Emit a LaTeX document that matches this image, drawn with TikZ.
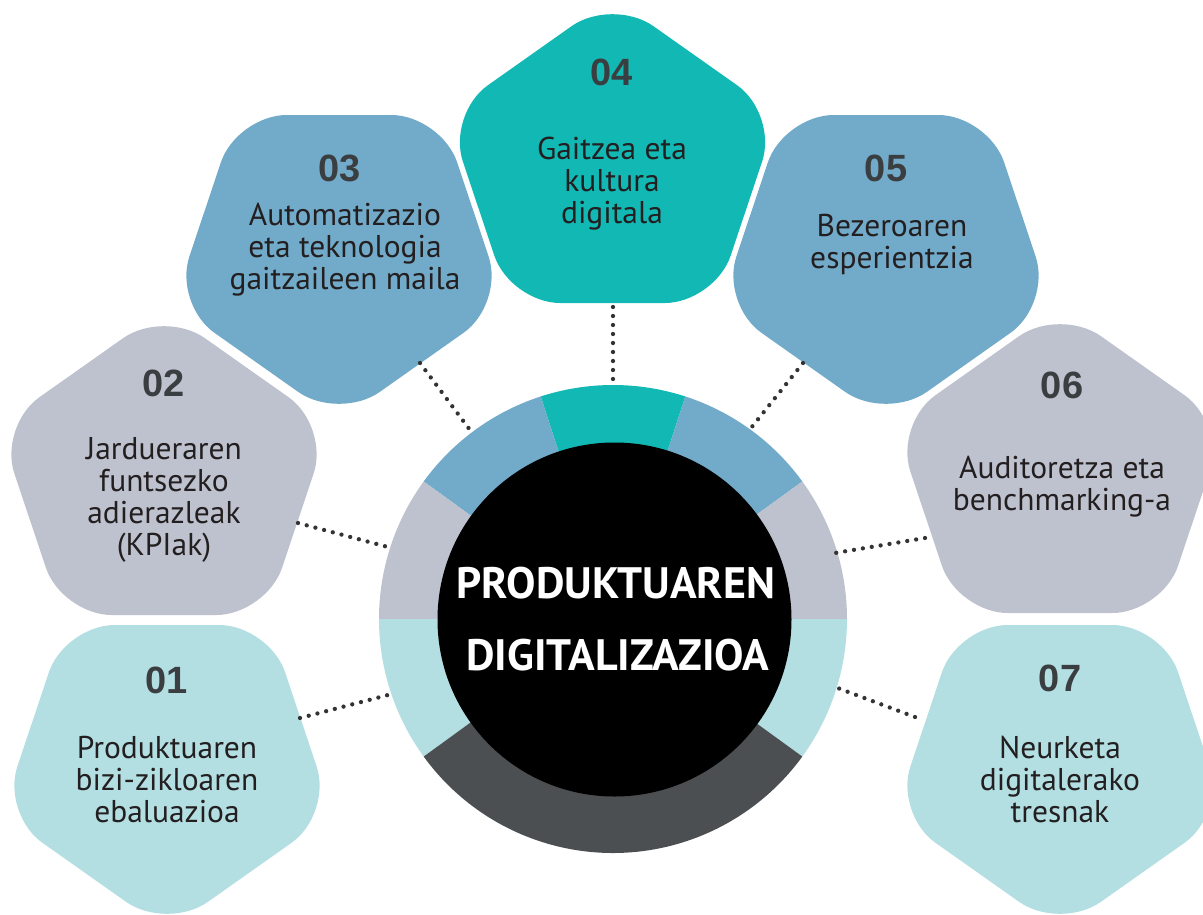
\documentclass[tikz,border=0pt]{standalone}
\usepackage{fontspec}
\setmainfont{PT Sans}
\newfontfamily\numfont{Liberation Sans}
\usetikzlibrary{calc}
\definecolor{cTeal}{HTML}{12B9B4}
\definecolor{cBlue}{HTML}{72ABCA}
\definecolor{cGrey}{HTML}{BEC2CE}
\definecolor{cLight}{HTML}{B3DFE3}
\definecolor{cDark}{HTML}{4B4F51}
\definecolor{cNum}{HTML}{3B3E41}
\definecolor{cText}{HTML}{231F20}
\definecolor{cDot}{HTML}{333333}
\tikzset{
  numlabel/.style={font=\numfont\bfseries\fontsize{38}{40}\selectfont, text=cNum, inner sep=0pt},
  bodytext/.style={font=\fontsize{31.5}{32}\selectfont, text=cText, align=center, inner sep=0pt},
  centertext/.style={font=\bfseries\fontsize{44}{50}\selectfont, text=white, inner sep=0pt},
  dotline/.style={cDot, line width=4.3pt, line cap=round, dash pattern=on 0pt off 9pt},
  pentround/.style={rounded corners=50pt},
}
\newcommand{\pentUp}[2]{\fill[#2,pentround] ($(#1)+(0,-136.7)$) -- ($(#1)+(102.3,-136.7)$) -- ($(#1)+(165.5,52.2)$) -- ($(#1)+(0,169)$) -- ($(#1)+(-165.5,52.2)$) -- ($(#1)+(-102.3,-136.7)$) -- cycle;}
\newcommand{\pentDown}[2]{\fill[#2,pentround] ($(#1)+(0,136.7)$) -- ($(#1)+(102.3,136.7)$) -- ($(#1)+(165.5,-52.2)$) -- ($(#1)+(0,-169)$) -- ($(#1)+(-165.5,-52.2)$) -- ($(#1)+(-102.3,136.7)$) -- cycle;}
\begin{document}
\begin{tikzpicture}[x=1pt,y=1pt]
\useasboundingbox (0,0) rectangle (1203,-914);
\clip (0,0) rectangle (1203,-914);
% centres
\coordinate (c4) at (612.5,-166.3);
\coordinate (c3) at (339,-251.7);
\coordinate (c5) at (886,-251.7);
\coordinate (c2) at (164,-478.3);
\coordinate (c6) at (1060,-476.3);
\coordinate (c1) at (167,-761.7);
\coordinate (c7) at (1060,-761.7);
\coordinate (rc) at (613,-619);
% pentagons
\pentUp{c4}{cTeal}
\pentDown{c3}{cBlue}
\pentDown{c5}{cBlue}
\pentUp{c2}{cGrey}
\pentUp{c6}{cGrey}
\pentDown{c1}{cLight}
\pentDown{c7}{cLight}
% ring
\fill[cTeal] (rc) -- ($(rc)+(72:234)$) arc[start angle=72, end angle=108, radius=234] -- cycle;
\fill[cBlue] (rc) -- ($(rc)+(108:234)$) arc[start angle=108, end angle=144, radius=234] -- cycle;
\fill[cBlue] (rc) -- ($(rc)+(36:234)$) arc[start angle=36, end angle=72, radius=234] -- cycle;
\fill[cGrey] (rc) -- ($(rc)+(144:234)$) arc[start angle=144, end angle=180, radius=234] -- cycle;
\fill[cGrey] (rc) -- ($(rc)+(0:234)$) arc[start angle=0, end angle=36, radius=234] -- cycle;
\fill[cLight] (rc) -- ($(rc)+(180:234)$) arc[start angle=180, end angle=216, radius=234] -- cycle;
\fill[cLight] (rc) -- ($(rc)+(-36:234)$) arc[start angle=-36, end angle=0, radius=234] -- cycle;
\fill[cDark] (rc) -- ($(rc)+(216:234)$) arc[start angle=216, end angle=324, radius=234] -- cycle;
\fill[black] ($(rc)+(1.5,-0.5)$) circle[radius=177];
% centre text
\node[centertext] (ctop) at (616,-583) {PRODUKTUAREN};
\node[centertext] (cbot) at (618,-655) {DIGITALIZAZIOA};
% numbers
\node[numlabel] (n4) at (612,-72) {04};
\node[numlabel] (n3) at (340,-168) {03};
\node[numlabel] (n5) at (886,-168) {05};
\node[numlabel] (n2) at (164,-383) {02};
\node[numlabel] (n6) at (1062,-385) {06};
\node[numlabel] (n1) at (167,-680) {01};
\node[numlabel] (n7) at (1060,-678) {07};
% texts
\node[bodytext] (t4) at (612,-184) {Gaitzea eta\\kultura\\digitala};
\node[bodytext] (t3) at (345,-250) {Automatizazio\\eta teknologia\\gaitzaileen maila};
\node[bodytext] (t5) at (892,-244) {Bezeroaren\\esperientzia};
\node[bodytext] (t2) at (164,-500) {Jardueraren\\funtsezko\\adierazleak\\(KPIak)};
\node[bodytext] (t6) at (1062,-487) {Auditoretza eta\\benchmarking-a};
\node[bodytext] (t1) at (167,-780) {Produktuaren\\bizi-zikloaren\\ebaluazioa};
\node[bodytext] (t7) at (1060,-779) {Neurketa\\digitalerako\\tresnak};
% connectors
\coordinate (a4) at (613,-307); \coordinate (b4) at (613,-382);
\coordinate (a3) at (420,-363); \coordinate (b3) at (470,-430);
\coordinate (a5) at (803,-363); \coordinate (b5) at (747,-433);
\coordinate (a2) at (298,-523); \coordinate (b2) at (388,-547);
\coordinate (a6) at (925,-538); \coordinate (b6) at (835,-553);
\coordinate (a1) at (300,-718); \coordinate (b1) at (388,-695);
\coordinate (a7) at (915,-717); \coordinate (b7) at (835,-687);
\foreach \i in {1,...,7}{\draw[dotline] (a\i) -- (b\i);}
\end{tikzpicture}
\end{document}
